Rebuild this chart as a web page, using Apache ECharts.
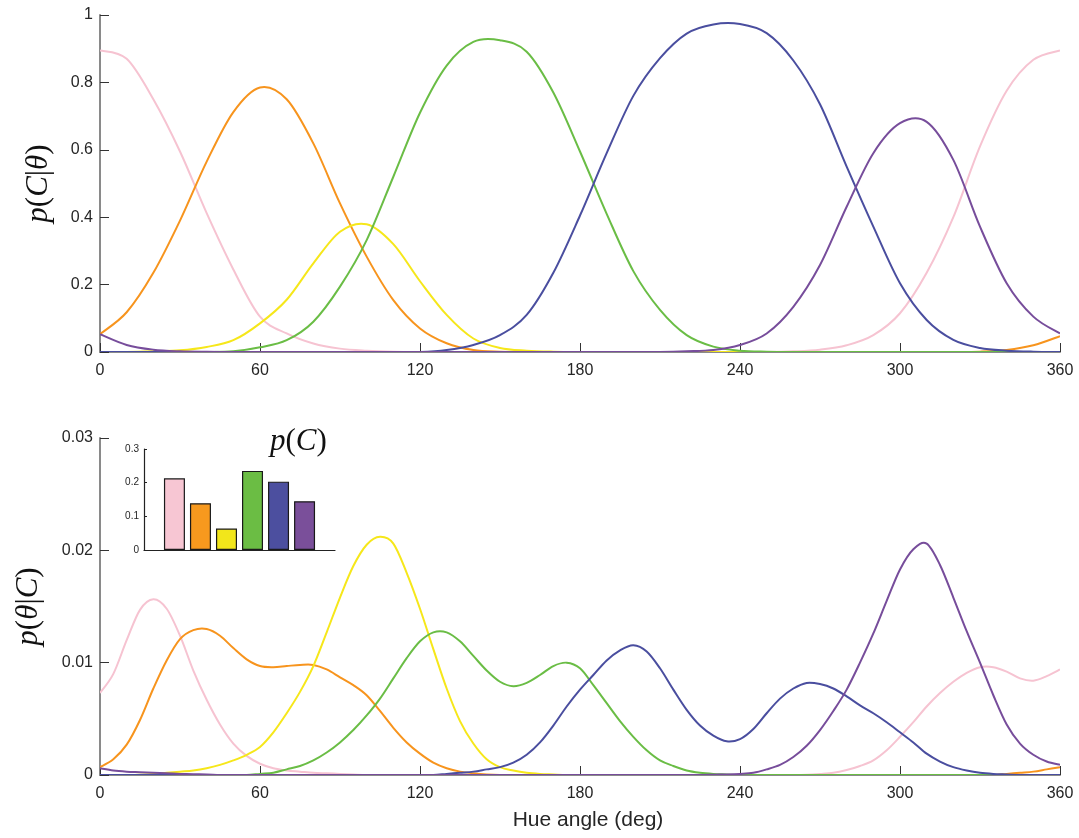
<!DOCTYPE html>
<html><head><meta charset="utf-8">
<script src="https://cdn.jsdelivr.net/npm/echarts@6/dist/echarts.min.js"></script>
<style>html,body{margin:0;padding:0;background:#fff;}#c{width:1079px;height:838px;}</style>
</head><body><div id="c"></div>
<script>
// Hue angle samples (deg)
const anglesTop = [0,10,20,30,40,50,60,70,80,90,100,110,120,130,140,150,160,170,180,190,200,210,220,230,240,250,260,270,280,290,300,310,320,330,340,350,360];
const anglesBot = [0,5,10,15,20,25,30,35,40,45,50,55,60,65,70,75,80,85,90,95,100,105,110,115,120,125,130,135,140,145,150,155,160,165,170,175,180,185,190,195,200,205,210,215,220,225,230,235,240,245,250,255,260,265,270,275,280,285,290,295,300,305,310,315,320,325,330,335,340,345,350,355,360];

// Top panel: p(C|theta)
const topPink   = [0.895,0.87,0.75,0.595,0.412,0.245,0.105,0.055,0.025,0.01,0.004,0.001,0,0,0,0,0,0,0,0,0,0,0,0,0,0,0.002,0.007,0.02,0.05,0.115,0.235,0.40,0.61,0.775,0.867,0.895];
const topOrange = [0.053,0.118,0.235,0.39,0.565,0.712,0.785,0.75,0.619,0.441,0.283,0.154,0.07,0.026,0.006,0.001,0,0,0,0,0,0,0,0,0,0,0,0,0,0,0,0,0,0.001,0.006,0.02,0.047];
const topYellow = [0,0,0.002,0.005,0.015,0.035,0.085,0.155,0.263,0.357,0.379,0.32,0.21,0.11,0.04,0.012,0.004,0.001,0,0,0,0,0,0,0,0,0,0,0,0,0,0,0,0,0,0,0];
const topGreen  = [0,0,0,0,0,0.002,0.014,0.035,0.09,0.194,0.332,0.52,0.71,0.85,0.92,0.925,0.891,0.77,0.595,0.41,0.24,0.125,0.05,0.016,0.004,0.001,0,0,0,0,0,0,0,0,0,0,0];
const topBlue   = [0,0,0,0,0,0,0,0,0,0,0,0,0,0.006,0.021,0.05,0.11,0.235,0.405,0.59,0.76,0.872,0.945,0.972,0.973,0.946,0.865,0.735,0.55,0.372,0.204,0.095,0.036,0.012,0.004,0.001,0];
const topPurple = [0.053,0.021,0.007,0.002,0.0005,0,0,0,0,0,0,0,0,0,0,0,0,0,0,0,0,0,0.002,0.006,0.021,0.055,0.134,0.258,0.431,0.59,0.679,0.683,0.57,0.372,0.204,0.105,0.055];

// Bottom panel: p(theta|C), 5-degree samples
const botPink   = [0.0073,0.0090,0.0120,0.0147,0.01564,0.0148,0.0124,0.0093,0.0067,0.0045,0.0028,0.0017,0.0010,0.0006,0.0004,0.0003,0.0002,0.00015,0.0001,0.00005,
                   0,0,0,0,0,0,0,0,0,0,0,0,0,0,0,0,0,0,0,0,0,0,0,0,0,0,0,0,0,0,0,0,0,
                   0.00003,0.0001,0.0002,0.00045,0.0008,0.0013,0.0022,0.0034,0.0047,0.0061,0.0073,0.0083,0.0091,0.0096,0.0096,0.0092,0.0086,0.0084,0.0088,0.0094];
const botOrange = [0.0007,0.0014,0.0027,0.0049,0.0077,0.0102,0.0121,0.0129,0.0130,0.0124,0.0113,0.0103,0.0097,0.0096,0.0097,0.0098,0.0098,0.0094,0.0087,0.0080,0.0071,0.0057,0.0042,0.0029,0.0019,0.0011,0.0006,0.0003,0.00015,0.00005,
                   0,0,0,0,0,0,0,0,0,0,0,0,0,0,0,0,0,0,0,0,0,0,0,0,0,0,0,0,0,0,0,0,0,0,0,0,0,0,
                   0.0001,0.0002,0.0003,0.0005,0.0007];
const botYellow = [0,0,0,0.00003,0.0001,0.0002,0.0003,0.0004,0.0006,0.0009,0.0013,0.0018,0.0025,0.0038,0.0055,0.0074,0.0097,0.0127,0.0158,0.0186,0.0205,0.0212,0.0206,0.0180,0.0148,0.0112,0.0077,0.0048,0.0028,0.0014,0.0007,0.0004,0.0002,0.0001,0.00005,
                   0,0,0,0,0,0,0,0,0,0,0,0,0,0,0,0,0,0,0,0,0,0,0,0,0,0,0,0,0,0,0,0,0,0,0,0,0,0];
const botGreen  = [0,0,0,0,0,0,0,0,0,0,0,0,
                   0.0001,0.0002,0.0005,0.0008,0.0013,0.0020,0.0029,0.0040,0.0053,0.0068,0.0086,0.0104,0.0119,0.0127,0.0127,0.0119,0.0106,0.0093,0.0083,0.0079,0.0082,0.0089,0.0097,0.0100,0.0095,0.0080,0.0064,0.0048,0.0034,0.0022,0.0013,0.0008,0.0004,0.0002,0.0001,0.00005,
                   0,0,0,0,0,0,0,0,0,0,0,0,0,0,0,0,0,0,0,0,0,0,0,0,0];
const botBlue   = [0,0,0,0,0,0,0,0,0,0,0,0,0,0,0,0,0,0,0,0,0,0,0,0,0,0,
                   0.0001,0.0002,0.0003,0.0005,0.0007,0.0011,0.0018,0.0029,0.0044,0.0061,0.0076,0.0089,0.0102,0.0111,0.01155,0.0110,0.0095,0.0076,0.0058,0.0044,0.0035,0.0030,0.0032,0.0041,0.0055,0.0068,0.0077,0.0082,0.0081,0.0077,0.0070,0.0062,0.0055,0.0047,0.0038,0.0029,0.0019,0.0012,0.0007,0.0004,0.0002,0.0001,0.00005,
                   0,0,0,0];
const botPurple = [0.0006,0.0004,0.0003,0.00025,0.0002,0.00015,0.0001,0.00007,0.00005,
                   0,0,0,0,0,0,0,0,0,0,0,0,0,0,0,0,0,0,0,0,0,0,0,0,0,0,0,0,0,0,0,0,0,0,0,0,0,
                   0.00003,0.00005,0.0001,0.0002,0.0005,0.0009,0.0016,0.0026,0.0040,0.0057,0.0076,0.0100,0.0126,0.0155,0.0183,0.0201,0.0206,0.0187,0.0158,0.0128,0.0100,0.0071,0.0045,0.0028,0.0018,0.0012,
                   0.0009];

// Inset: p(C)
const barPos = [1,2,3,4,5,6];
const priorC = [0.213,0.139,0.064,0.235,0.203,0.145];

const xTicks = {min:0, max:360, interval:60};
const topTicks = {min:0, max:1, interval:0.2};
const botTicks = {min:0, max:0.03, interval:0.01};
const insetTicks = {min:0, max:0.3, interval:0.1};

const lineColors = ['#F6C3D1','#F7941D','#F6E71A','#6ABD45','#4A4E9F','#774D9B'];
const barColors  = ['#F7C6D3','#F7991E','#F2E61B','#6BBD44','#4C4F9F','#7A4F9A'];

const chart = echarts.init(document.getElementById('c'), null, {renderer:'canvas'});

const sans = 'Liberation Sans';
const axisLineGray = {show:true, onZero:false, lineStyle:{color:'#8a8a8a', width:2}};
const tickIn = {show:true, inside:true, length:9, lineStyle:{color:'#333', width:1}};
const lblStyle = (m) => ({color:'#262626', fontSize:16, fontFamily:sans, margin:m});
const mathRich = (fs) => ({
  i:{fontFamily:'Liberation Serif', fontStyle:'italic', fontWeight:'normal', fontSize:fs, color:'#111'},
  n:{fontFamily:'Liberation Serif', fontStyle:'normal', fontWeight:'normal', fontSize:fs, color:'#111'}
});

function mk(xs, arr){ return xs.map((a,i)=>[a, arr[i]]); }

// Smooth curve through the data points, positioned with the axes' own scales (api.coord)
function curveSeries(xs, arr, idx, xi, yi){
  const data = mk(xs, arr);
  const color = lineColors[idx];
  return {
    type:'custom', xAxisIndex:xi, yAxisIndex:yi, data:data, z:2+idx, clip:true,
    encode:{x:0, y:1}, silent:true,
    renderItem:function(params, api){
      if (params.dataIndex !== 0) return null;
      const pts = data.map(d => api.coord(d));
      const n = pts.length;
      let path = 'M' + pts[0][0].toFixed(2) + ' ' + pts[0][1].toFixed(2);
      for (let i = 0; i < n - 1; i++){
        const p0 = pts[Math.max(i-1,0)], p1 = pts[i], p2 = pts[i+1], p3 = pts[Math.min(i+2,n-1)];
        const c1x = p1[0] + (p2[0]-p0[0])/6, c1y = p1[1] + (p2[1]-p0[1])/6;
        const c2x = p2[0] - (p3[0]-p1[0])/6, c2y = p2[1] - (p3[1]-p1[1])/6;
        path += ' C' + c1x.toFixed(2) + ' ' + c1y.toFixed(2) + ' ' + c2x.toFixed(2) + ' ' + c2y.toFixed(2) + ' ' + p2[0].toFixed(2) + ' ' + p2[1].toFixed(2);
      }
      return {type:'path', shape:{pathData:path}, style:{stroke:color, lineWidth:2, fill:null, lineJoin:'round'}};
    }
  };
}

const topSets = [topPink, topOrange, topYellow, topGreen, topBlue, topPurple];
const botSets = [botPink, botOrange, botYellow, botGreen, botBlue, botPurple];

const series = [];
topSets.forEach((s,i)=>series.push(curveSeries(anglesTop, s, i, 0, 0)));
botSets.forEach((s,i)=>series.push(curveSeries(anglesBot, s, i, 1, 1)));
series.push({
  type:'bar', xAxisIndex:2, yAxisIndex:2, barWidth:21, z:20,
  data: barPos.map((p,i)=>({value:[p, priorC[i]], itemStyle:{color:barColors[i], borderColor:'#1a1a1a', borderWidth:1.2}}))
});

chart.setOption({
  animation:false,
  backgroundColor:'#fff',
  title:{text:'{i|p}{n|(}{i|C}{n|)}', left:265, top:421, textStyle:{fontWeight:'normal', rich:mathRich(31)}},
  grid:[
    {left:100, top:15, width:960, height:337},
    {left:100, top:438, width:960, height:337},
    {left:144, top:449, width:191, height:101, z:10}
  ],
  xAxis:[
    {gridIndex:0, type:'value', ...xTicks, axisLine:axisLineGray, axisTick:tickIn, axisLabel:lblStyle(11), splitLine:{show:false}},
    {gridIndex:1, type:'value', ...xTicks, axisLine:axisLineGray, axisTick:tickIn, axisLabel:lblStyle(11), splitLine:{show:false},
      name:'Hue angle (deg)', nameLocation:'middle', nameGap:35,
      nameTextStyle:{fontSize:21, fontFamily:sans, color:'#262626', padding:[0,0,0,16]}},
    {gridIndex:2, type:'value', min:-0.17, max:7.17, axisLine:{show:true, onZero:false, lineStyle:{color:'#222', width:1.2}},
      axisTick:{show:false}, axisLabel:{show:false}, splitLine:{show:false}}
  ],
  yAxis:[
    {gridIndex:0, type:'value', ...topTicks, axisLine:axisLineGray, axisTick:tickIn, axisLabel:lblStyle(7), splitLine:{show:false},
      name:'{i|p}{n|(}{i|C}{n||}{i|θ}{n|)}', nameLocation:'middle', nameRotate:90, nameGap:46, nameTextStyle:{rich:mathRich(31)}},
    {gridIndex:1, type:'value', ...botTicks, axisLine:axisLineGray, axisTick:tickIn, axisLabel:lblStyle(7), splitLine:{show:false},
      name:'{i|p}{n|(}{i|θ}{n||}{i|C}{n|)}', nameLocation:'middle', nameRotate:90, nameGap:56, nameTextStyle:{rich:mathRich(31)}},
    {gridIndex:2, type:'value', ...insetTicks, axisLine:{show:true, onZero:false, lineStyle:{color:'#222', width:1.2}},
      axisTick:{show:true, inside:true, length:3, lineStyle:{color:'#222'}},
      axisLabel:{color:'#262626', fontSize:10, fontFamily:sans, margin:5}, splitLine:{show:false}}
  ],
  series: series
});
</script></body></html>
